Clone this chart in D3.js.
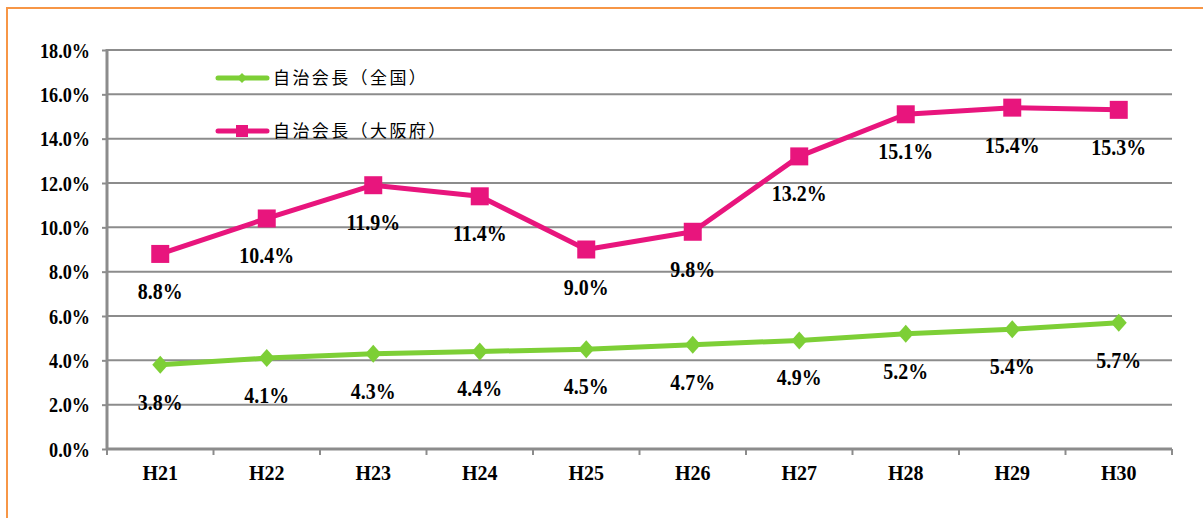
<!DOCTYPE html>
<html>
<head>
  <meta charset="utf-8">
  <title>自治会長</title>
  <script src="https://d3js.org/d3.v7.min.js"></script>
  <style>
    body { margin: 0; overflow: hidden; background: #fff; }
    .num { font-family: "Liberation Serif", "Times New Roman", serif; font-weight: bold; fill: #000; }
    .leg { font-family: "Noto Sans CJK JP", sans-serif; font-size: 17px; letter-spacing: 2.4px; fill: #000; }
  </style>
</head>
<body>
<svg width="1203" height="518"></svg>
<script>
// --- Daten ---
const years = ["H21","H22","H23","H24","H25","H26","H27","H28","H29","H30"];
const zenkoku = [3.8, 4.1, 4.3, 4.4, 4.5, 4.7, 4.9, 5.2, 5.4, 5.7];
const osaka = [8.8, 10.4, 11.9, 11.4, 9.0, 9.8, 13.2, 15.1, 15.4, 15.3];
const yTicks = [0, 2, 4, 6, 8, 10, 12, 14, 16, 18];
const seriesNames = ["自治会長（全国）", "自治会長（大阪府）"];

const svg = d3.select("svg");
const green = "#7dcf36", pink = "#e8157d", grid = "#8c8c8c";

// Rahmen
svg.append("rect").attr("x", 7).attr("y", 8).attr("width", 1210).attr("height", 530)
  .attr("fill", "none").attr("stroke", "#f79646").attr("stroke-width", 2);

const x = d3.scaleBand().domain(years).range([107, 1172]);
const y = d3.scaleLinear().domain([0, 18]).range([449, 50]);

// Gitter
svg.append("g").selectAll("line").data(yTicks.slice(1)).join("line")
  .attr("x1", 107).attr("x2", 1172)
  .attr("y1", d => y(d)).attr("y2", d => y(d))
  .attr("stroke", grid).attr("stroke-width", 2);

// y-Achse
const yAxis = svg.append("g").attr("transform", "translate(107,0)")
  .call(d3.axisLeft(y).tickValues(yTicks).tickSize(5).tickFormat(d => d.toFixed(1) + "%"));
yAxis.select(".domain").remove();
yAxis.selectAll("line").attr("stroke", grid).attr("stroke-width", 2);
yAxis.selectAll("text").attr("class", "num").style("font-size", "20px")
  .attr("x", null).attr("dy", null)
  .attr("transform", "translate(-17,7) scale(0.91,1)");
svg.append("line").attr("x1", 107).attr("x2", 107).attr("y1", 49).attr("y2", 450)
  .attr("stroke", grid).attr("stroke-width", 3);

// x-Achse
const xAxis = svg.append("g").attr("transform", "translate(0,449)")
  .call(d3.axisBottom(x).tickSize(0));
xAxis.select(".domain").remove();
xAxis.selectAll("text").attr("class", "num").style("font-size", "20px")
  .attr("y", 31).attr("dy", null);
svg.append("g").selectAll("line").data(years.concat([null])).join("line")
  .attr("x1", (d, i) => 107 + i * x.step()).attr("x2", (d, i) => 107 + i * x.step())
  .attr("y1", 449).attr("y2", 455).attr("stroke", grid).attr("stroke-width", 2);
svg.append("line").attr("x1", 106).attr("x2", 1172).attr("y1", 449).attr("y2", 449)
  .attr("stroke", grid).attr("stroke-width", 3);

const cx = d => x(d) + x.bandwidth() / 2;
const line = d3.line().x(d => cx(d[0])).y(d => y(d[1]));

function drawSeries(vals, color, marker) {
  const pts = years.map((yr, i) => [yr, vals[i]]);
  svg.append("path").datum(pts).attr("d", line)
    .attr("fill", "none").attr("stroke", color).attr("stroke-width", 5).attr("stroke-linejoin", "round");
  svg.append("g").selectAll("path").data(pts).join("path")
    .attr("transform", d => `translate(${cx(d[0])},${y(d[1])})`)
    .attr("d", marker).attr("fill", color);
  svg.append("g").selectAll("text").data(pts).join("text")
    .attr("class", "num").attr("text-anchor", "middle").style("font-size", "24px")
    .attr("transform", d => `translate(${cx(d[0])},${y(d[1]) + 45}) scale(0.83,1)`)
    .text(d => d[1].toFixed(1) + "%");
}
const diamond = "M-8,0L0,-9L8,0L0,9Z";
const square = "M-9,-9H9V9H-9Z";
drawSeries(zenkoku, green, diamond);
drawSeries(osaka, pink, square);

// Legende
const legend = [[seriesNames[0], green, "M-5,0L0,-5L5,0L0,5Z", 78], [seriesNames[1], pink, "M-6,-6H6V6H-6Z", 131]];
legend.forEach(([name, color, m, ly]) => {
  svg.append("line").attr("x1", 218).attr("x2", 267).attr("y1", ly).attr("y2", ly)
    .attr("stroke", color).attr("stroke-width", 5).attr("stroke-linecap", "round");
  svg.append("path").attr("d", m).attr("transform", `translate(242,${ly})`).attr("fill", color);
  svg.append("text").attr("class", "leg").attr("x", 273).attr("y", ly + 6).text(name);
});
</script>
</body>
</html>
